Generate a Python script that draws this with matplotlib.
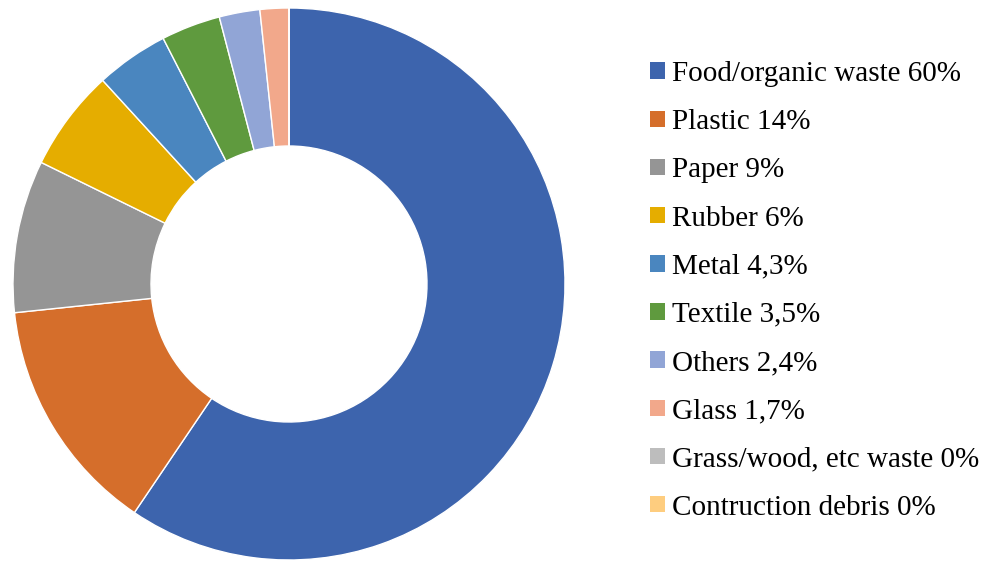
import matplotlib.pyplot as plt
from matplotlib.patches import Patch

# Waste composition
labels = ["Food/organic waste 60%", "Plastic 14%", "Paper 9%", "Rubber 6%",
          "Metal 4,3%", "Textile 3,5%", "Others 2,4%", "Glass 1,7%",
          "Grass/wood, etc waste 0%", "Contruction debris 0%"]
values = [60, 14, 9, 6, 4.3, 3.5, 2.4, 1.7, 0, 0]
colors = ["#3d64ad", "#d56e2b", "#959595", "#e5ad00", "#4a86bf",
          "#5f9a3e", "#91a5d6", "#f2a88b", "#bdbdbd", "#fecd7f"]

plt.rcParams["font.family"] = ["Liberation Serif", "DejaVu Serif"]

fig = plt.figure(figsize=(9.84, 5.62), dpi=100)
ax = fig.add_axes([13 / 984, 2 / 562, 552 / 984, 552 / 562])

ax.pie(values, colors=colors, startangle=90, counterclock=False, radius=1,
       wedgeprops=dict(width=0.5, edgecolor="white", linewidth=1))
ax.set_xlim(-1, 1)
ax.set_ylim(-1, 1)
ax.set_aspect("equal")
ax.axis("off")

handles = [Patch(facecolor=c, edgecolor="none") for c in colors]
fig.legend(handles, labels, loc="upper left", bbox_to_anchor=(650 / 984, 1 - 61 / 562),
           frameon=False, fontsize=21, handlelength=0.5, handleheight=0.5,
           handletextpad=0.25, labelspacing=0.76, borderpad=0, borderaxespad=0)

fig.savefig("out.png", dpi=100)
